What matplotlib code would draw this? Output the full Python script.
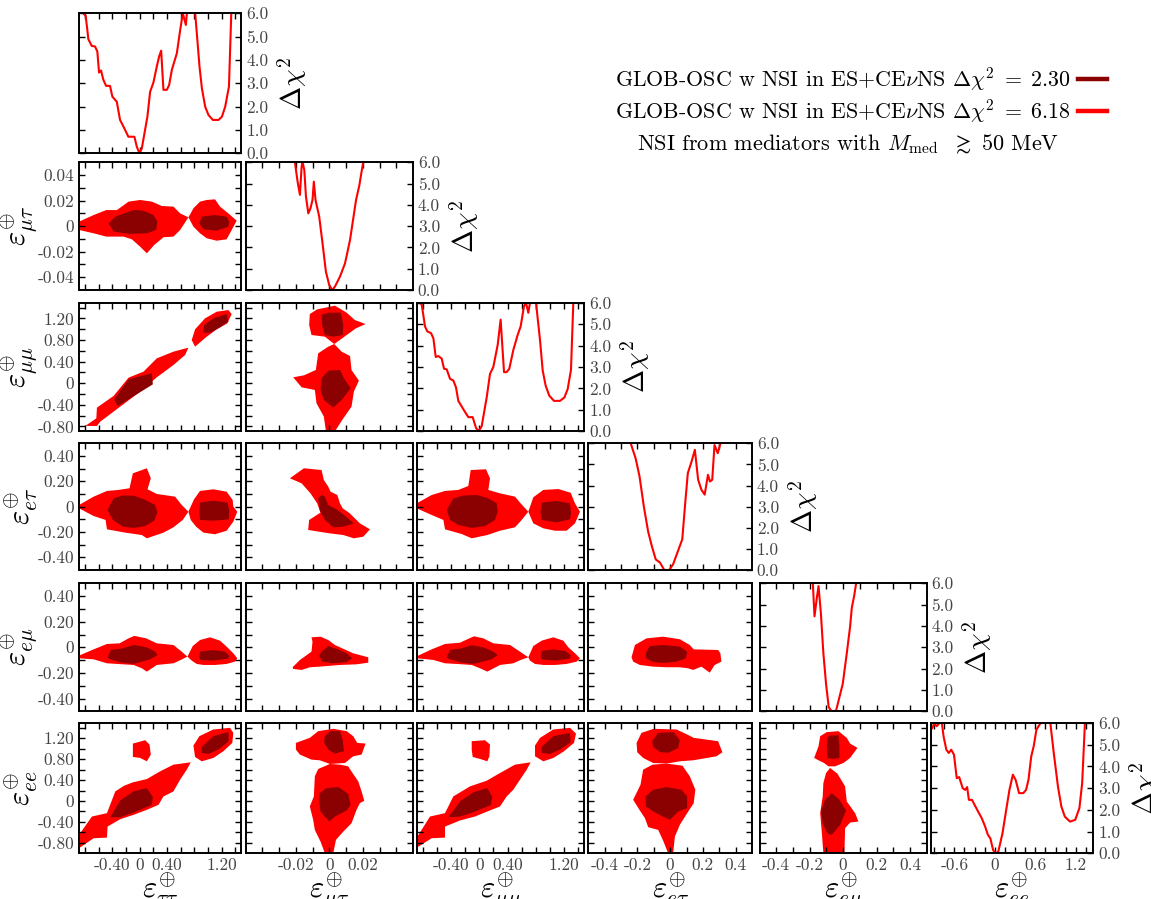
import matplotlib

matplotlib.use("Agg")
import matplotlib.pyplot as plt
import numpy as np
from matplotlib.lines import Line2D
from matplotlib.ticker import FixedFormatter, FixedLocator

plt.rcParams["font.family"] = ["cmr10", "DejaVu Serif"]
plt.rcParams["mathtext.fontset"] = "cm"
plt.rcParams["axes.unicode_minus"] = False
plt.rcParams["axes.formatter.use_mathtext"] = True

RED = "#ff0000"
DARK = "#8b0000"
TICK_COLOR = "#444444"

# ---------------------------------------------------------------- data
# one-dimensional profiles (delta chi^2 vs parameter); nan = curve leaves the frame
tt_x = [-0.827, -0.792, -0.768, -0.753, -0.703, -0.655, -0.621, -0.596, -0.567, -0.533, -0.493, -0.435,
        -0.401, -0.336, -0.288, -0.225, -0.166, -0.078, -0.042, -0.004, 0.031, 0.113, 0.153, 0.201,
        0.251, 0.285, 0.315, 0.348, 0.398, 0.432, 0.472, 0.545, 0.594, 0.633, 0.677, 0.692, 0.75,
        0.814, 0.877, 0.912, 0.96, 1.009, 1.073, 1.156, 1.206, 1.254, 1.309, 1.343]
tt_chi2 = [6.0, 5.89, 5.29, 4.89, 4.60, 4.58, 4.36, 3.46, 3.55, 3.15, 2.89, 2.89,
           2.43, 2.21, 1.43, 1.07, 0.71, 0.71, 0.28, 0.0, 0.21, 1.57, 2.64, 3.03,
           3.72, 4.15, 4.40, 2.72, 2.72, 2.93, 3.58, 4.29, 5.29, 6.0, 5.5, 6.0, np.nan,
           6.0, 3.72, 2.79, 2.0, 1.64, 1.43, 1.43, 1.57, 2.0, 2.86, 6.0]

mt_x = [-0.0205, -0.0189, -0.0175, -0.0165, -0.0159, -0.0149, -0.0139, -0.0125, -0.0112, -0.0100,
        -0.0092, -0.0082, -0.0060, -0.0040, -0.0020, 0.0, 0.0018, 0.0034, 0.0064, 0.0094, 0.0124,
        0.0160, 0.0180, 0.0193, 0.0203]
mt_chi2 = [6.0, 5.09, 4.47, 5.8, 6.0, 5.64, 4.39, 3.6, 3.84, 4.23,
           5.09, 4.23, 3.45, 2.19, 0.86, 0.23, 0.0, 0.16, 0.63, 1.25, 2.35,
           4.23, 4.93, 5.56, 6.0]

mm_x = [-0.852, -0.819, -0.772, -0.739, -0.687, -0.653, -0.620, -0.582, -0.535, -0.502, -0.464, -0.417,
        -0.370, -0.332, -0.299, -0.228, -0.157, -0.095, -0.048, -0.010, 0.033, 0.104, 0.151, 0.198,
        0.260, 0.302, 0.350, 0.387, 0.425, 0.482, 0.544, 0.586, 0.634, 0.662, 0.695, 0.719, 0.76,
        0.804, 0.861, 0.899, 0.941, 0.993, 1.06, 1.145, 1.207, 1.254, 1.301, 1.334]
mm_chi2 = [6.0, 5.92, 4.89, 4.66, 4.58, 4.34, 3.47, 3.51, 3.39, 2.92, 2.89, 2.45,
           2.37, 2.05, 1.42, 1.03, 0.66, 0.66, 0.16, 0.0, 0.24, 1.58, 2.68, 3.0,
           4.03, 5.21, 2.76, 2.76, 2.92, 3.79, 4.5, 4.89, 5.84, 6.0, 5.53, 6.0, np.nan,
           6.0, 4.26, 2.84, 2.13, 1.66, 1.42, 1.42, 1.58, 1.97, 2.87, 6.0]

et_x = [-0.241, -0.211, -0.187, -0.161, -0.135, -0.112, -0.088, -0.062, -0.036, -0.006, 0.018, 0.044,
        0.074, 0.092, 0.108, 0.131, 0.151, 0.171, 0.191, 0.211, 0.231, 0.243, 0.257, 0.271, 0.291, 0.307]
et_chi2 = [6.0, 5.29, 4.43, 3.02, 1.84, 1.13, 0.5, 0.35, 0.0, 0.0, 0.27, 0.82,
           1.45, 3.17, 4.59, 5.14, 5.69, 4.27, 3.8, 3.57, 4.51, 4.19, 4.27, 5.92, 5.53, 6.0]

em_x = [-0.181, -0.171, -0.157, -0.147, -0.133, -0.118, -0.102, -0.086, -0.068, -0.042, -0.022, -0.002,
        0.022, 0.042, 0.052, 0.066, 0.078]
em_chi2 = [6.0, 4.45, 5.32, 5.87, 4.61, 2.72, 1.29, 0.19, 0.0, 0.03, 0.66, 1.29,
           2.72, 3.98, 4.85, 5.4, 6.0]

ee_x = [-0.99, -0.964, -0.928, -0.897, -0.861, -0.82, -0.784, -0.759, -0.718, -0.682, -0.646, -0.605,
        -0.564, -0.528, -0.476, -0.44, -0.41, -0.384, -0.338, -0.286, -0.235, -0.194, -0.143, -0.102,
        -0.066, -0.025, 0.011, 0.052, 0.114, 0.165, 0.217, 0.268, 0.309, 0.36, 0.422, 0.463,
        0.499, 0.54, 0.576, 0.617, 0.648, 0.679, 0.75, 0.823, 0.874, 0.936, 0.987, 1.038, 1.115,
        1.192, 1.254, 1.295, 1.336]
ee_chi2 = [4.92, 5.62, 5.77, 5.97, 5.85, 6.0, 6.0, 5.38, 4.77, 4.62, 4.77, 4.54,
           3.46, 3.51, 3.0, 2.92, 3.05, 2.46, 2.46, 2.15, 1.85, 1.62, 1.23, 0.85,
           0.69, 0.15, 0.0, 0.08, 0.92, 1.92, 2.92, 3.62, 3.38, 2.77, 2.77, 2.92,
           3.38, 4.46, 4.92, 5.69, 5.85, 6.0, np.nan, 6.0, 4.62, 3.08, 2.15, 1.69, 1.46,
           1.54, 2.08, 3.23, 6.0]

# two-dimensional allowed regions: outlines of the 6.18 (red) and 2.30 (dark) areas
mt_tt_red = [
    [(-0.89, 0.0035), (-0.675, 0.0087), (-0.49, 0.0126), (-0.334, 0.0126), (-0.163, 0.0192), (0.007, 0.0205),
     (0.178, 0.0192), (0.324, 0.0158), (0.495, 0.0153), (0.593, 0.010), (0.715, 0.0069), (0.593, -0.003),
     (0.495, -0.0082), (0.349, -0.0087), (0.212, -0.0148), (0.105, -0.0213), (0.007, -0.0161),
     (-0.115, -0.0103), (-0.237, -0.0082), (-0.49, -0.0082), (-0.675, -0.0056), (-0.89, -0.003)],
    [(0.715, 0.0069), (0.788, 0.014), (0.885, 0.0192), (0.983, 0.0205), (1.105, 0.021), (1.178, 0.0153),
     (1.30, 0.010), (1.422, 0.0043), (1.349, -0.003), (1.275, -0.0103), (1.129, -0.0114), (0.983, -0.0095),
     (0.885, -0.0056), (0.788, -0.0004)],
]
mt_tt_dark = [
    [(-0.456, 0.0022), (-0.358, 0.0074), (-0.09, 0.0127), (0.056, 0.0121), (0.202, 0.0087), (0.261, 0.0035),
     (0.241, -0.003), (0.105, -0.0056), (-0.139, -0.0061), (-0.383, -0.0043)],
    [(0.875, 0.0022), (0.91, 0.0074), (1.105, 0.0087), (1.275, 0.0074), (1.314, 0.0035), (1.30, -0.0004),
     (1.129, -0.0035), (0.934, -0.0025)],
]

mm_tt_red = [
    [(-0.797, -0.791), (-0.636, -0.65), (-0.627, -0.452), (-0.383, -0.236), (-0.163, 0.103), (0.056, 0.214),
     (0.251, 0.46), (0.495, 0.584), (0.714, 0.658), (0.666, 0.522), (0.495, 0.337), (0.251, 0.109),
     (0.007, -0.156), (-0.188, -0.341), (-0.383, -0.526), (-0.578, -0.711), (-0.627, -0.791)],
    [(0.763, 0.799), (0.812, 0.997), (0.958, 1.20), (1.129, 1.323), (1.30, 1.354), (1.349, 1.28),
     (1.285, 1.108), (1.129, 0.997), (0.983, 0.861), (0.812, 0.676)],
]
mm_tt_dark = [
    [(-0.373, -0.298), (-0.163, 0.072), (0.178, 0.183), (0.193, -0.021), (-0.115, -0.261), (-0.324, -0.421)],
    [(0.934, 0.935), (0.944, 1.077), (1.08, 1.20), (1.275, 1.28), (1.30, 1.139), (1.178, 1.034), (1.032, 0.935)],
]

mm_mt_red = [
    [(-0.012, 1.077), (-0.0116, 1.28), (-0.0072, 1.367), (0.0034, 1.435), (0.0104, 1.305), (0.0153, 1.169),
     (0.0217, 1.095), (0.0159, 1.015), (0.0104, 0.892), (0.003, 0.725), (-0.0026, 0.861), (-0.0106, 0.892)],
    [(0.003, 0.725), (0.0074, 0.584), (0.0124, 0.503), (0.0133, 0.244), (0.0177, 0.047), (0.0147, -0.156),
     (0.0133, -0.434), (0.0084, -0.65), (0.0034, -0.89), (-0.002, -0.89), (-0.0032, -0.619),
     (-0.0076, -0.372), (-0.0086, -0.125), (-0.0165, -0.076), (-0.0215, 0.109), (-0.0151, 0.146),
     (-0.008, 0.245), (-0.0066, 0.553), (-0.0006, 0.676)],
]
mm_mt_dark = [
    [(-0.0046, 1.262), (-0.0006, 1.305), (0.0068, 1.305), (0.0084, 1.077), (0.008, 0.892), (0.0024, 0.861),
     (-0.0026, 0.892), (-0.0042, 1.077)],
    [(-0.0052, -0.125), (-0.0046, 0.09), (-0.0006, 0.232), (0.0064, 0.245), (0.0088, 0.09), (0.0128, -0.095),
     (0.0074, -0.311), (0.0024, -0.452), (-0.0032, -0.311)],
]

et_tt_red = [
    [(-0.89, 0.013), (-0.675, 0.079), (-0.48, 0.124), (-0.31, 0.132), (-0.149, 0.145), (-0.10, 0.263),
     (0.105, 0.303), (0.163, 0.224), (0.115, 0.137), (0.251, 0.10), (0.519, 0.079), (0.617, 0.013),
     (0.714, -0.04), (0.632, -0.105), (0.495, -0.163), (0.349, -0.205), (0.105, -0.25), (0.032, -0.224),
     (-0.212, -0.205), (-0.48, -0.179), (-0.50, -0.105), (-0.675, -0.074), (-0.89, -0.013)],
    [(0.714, -0.04), (0.797, 0.058), (0.885, 0.124), (1.08, 0.137), (1.275, 0.118), (1.363, 0.053),
     (1.373, 0.0), (1.431, -0.04), (1.373, -0.118), (1.275, -0.19), (1.105, -0.218), (0.934, -0.205),
     (0.827, -0.158), (0.749, -0.105)],
]
et_tt_dark = [
    [(-0.471, -0.026), (-0.383, 0.066), (-0.261, 0.087), (-0.09, 0.087), (0.066, 0.058), (0.227, 0.013),
     (0.261, -0.047), (0.212, -0.111), (0.081, -0.153), (-0.09, -0.168), (-0.246, -0.158), (-0.393, -0.105)],
    [(0.875, -0.04), (0.885, 0.032), (1.08, 0.047), (1.285, 0.032), (1.314, -0.032), (1.305, -0.10),
     (1.08, -0.111), (0.885, -0.105)],
]

et_mt_red = [
    [(-0.0235, 0.224), (-0.0151, 0.303), (-0.0046, 0.289), (-0.0032, 0.21), (-0.0006, 0.158), (0.0008, 0.118),
     (0.0048, 0.092), (0.0064, 0.026), (0.008, -0.013), (0.0123, -0.053), (0.0183, -0.132), (0.0243, -0.179),
     (0.0203, -0.237), (0.0147, -0.25), (0.0084, -0.224), (0.0004, -0.211), (-0.0126, -0.184),
     (-0.012, -0.105), (-0.0052, -0.047), (-0.0072, 0.026), (-0.0112, 0.105), (-0.0165, 0.184)],
]
et_mt_dark = [
    [(-0.0066, 0.066), (-0.0046, 0.092), (-0.0026, 0.079), (-0.0006, 0.013), (0.0044, -0.021), (0.0088, -0.066),
     (0.0147, -0.132), (0.0084, -0.158), (0.0024, -0.163), (-0.0026, -0.105), (-0.0056, -0.032)],
]

et_mm_red = [
    [(-0.89, 0.026), (-0.677, 0.092), (-0.488, 0.124), (-0.298, 0.132), (-0.157, 0.163), (-0.123, 0.289),
     (0.094, 0.295), (0.151, 0.224), (0.127, 0.132), (0.293, 0.105), (0.506, 0.079), (0.586, 0.026),
     (0.695, -0.04), (0.601, -0.105), (0.506, -0.163), (0.293, -0.19), (0.113, -0.224), (-0.109, -0.25),
     (-0.251, -0.216), (-0.488, -0.179), (-0.511, -0.105), (-0.677, -0.066), (-0.89, -0.013)],
    [(0.695, -0.04), (0.766, 0.074), (0.908, 0.132), (1.121, 0.139), (1.296, 0.11), (1.358, 0.026),
     (1.429, -0.04), (1.358, -0.132), (1.239, -0.19), (1.074, -0.19), (0.908, -0.171), (0.766, -0.132)],
]
et_mm_dark = [
    [(-0.464, -0.026), (-0.369, 0.066), (-0.228, 0.087), (-0.038, 0.092), (0.127, 0.066), (0.246, 0.026),
     (0.26, -0.04), (0.222, -0.105), (0.08, -0.153), (-0.109, -0.168), (-0.298, -0.145), (-0.417, -0.105)],
    [(0.87, -0.04), (0.885, 0.032), (1.097, 0.045), (1.287, 0.026), (1.301, -0.053), (1.287, -0.10),
     (1.097, -0.124), (0.885, -0.105)],
]

em_tt_red = [
    [(-0.89, -0.065), (-0.675, -0.016), (-0.48, 0.026), (-0.295, 0.031), (-0.163, 0.07), (-0.08, 0.089),
     (0.095, 0.07), (0.251, 0.031), (0.495, 0.018), (0.617, -0.034), (0.70, -0.073), (0.602, -0.099),
     (0.495, -0.125), (0.251, -0.138), (0.105, -0.19), (0.032, -0.164), (-0.09, -0.138), (-0.334, -0.13),
     (-0.48, -0.125), (-0.675, -0.094), (-0.89, -0.086)],
    [(0.70, -0.073), (0.778, 0.01), (0.885, 0.057), (1.032, 0.078), (1.178, 0.052), (1.285, 0.0),
     (1.373, -0.047), (1.431, -0.086), (1.397, -0.112), (1.275, -0.13), (1.105, -0.138), (0.934, -0.138),
     (0.836, -0.13), (0.763, -0.104)],
]
em_tt_dark = [
    [(-0.471, -0.078), (-0.422, -0.021), (-0.246, -0.008), (-0.09, 0.018), (0.105, 0.0), (0.227, -0.034),
     (0.261, -0.06), (0.154, -0.094), (-0.09, -0.13), (-0.261, -0.12), (-0.432, -0.094)],
    [(0.875, -0.073), (0.885, -0.034), (1.08, -0.021), (1.251, -0.034), (1.314, -0.068), (1.30, -0.088),
     (1.08, -0.104), (0.885, -0.099)],
]

em_mt_red = [
    [(-0.0219, -0.156), (-0.0175, -0.099), (-0.0106, -0.034), (-0.010, 0.044), (-0.0106, 0.078),
     (-0.0052, 0.083), (-0.0006, 0.057), (0.0034, 0.018), (0.0143, -0.047), (0.0233, -0.078),
     (0.0233, -0.12), (0.0163, -0.133), (0.0064, -0.138), (-0.0056, -0.151), (-0.0116, -0.156),
     (-0.0165, -0.177), (-0.0215, -0.169)],
]
em_mt_dark = [
    [(-0.006, -0.068), (-0.0046, -0.034), (-0.0006, 0.01), (0.0044, -0.013), (0.0104, -0.047),
     (0.0137, -0.086), (0.0104, -0.115), (0.0024, -0.125), (-0.004, -0.112)],
]

em_mm_red = [
    [(-0.88, -0.068), (-0.677, -0.016), (-0.488, 0.026), (-0.275, 0.036), (-0.142, 0.07), (-0.076, 0.086),
     (0.056, 0.07), (0.198, 0.031), (0.435, 0.018), (0.577, -0.034), (0.695, -0.078), (0.586, -0.099),
     (0.482, -0.125), (0.293, -0.138), (0.113, -0.19), (0.009, -0.164), (-0.109, -0.138), (-0.322, -0.13),
     (-0.488, -0.125), (-0.653, -0.099), (-0.88, -0.086)],
    [(0.695, -0.078), (0.766, 0.01), (0.885, 0.052), (1.05, 0.078), (1.192, 0.052), (1.263, 0.0),
     (1.358, -0.047), (1.429, -0.086), (1.381, -0.112), (1.239, -0.13), (1.074, -0.138), (0.908, -0.138),
     (0.79, -0.13), (0.719, -0.104)],
]
em_mm_dark = [
    [(-0.464, -0.078), (-0.417, -0.021), (-0.251, -0.008), (-0.109, 0.016), (0.056, 0.0), (0.198, -0.034),
     (0.26, -0.06), (0.175, -0.094), (-0.086, -0.13), (-0.251, -0.12), (-0.417, -0.094)],
    [(0.87, -0.068), (0.885, -0.029), (1.05, -0.016), (1.216, -0.029), (1.296, -0.06), (1.287, -0.088),
     (1.074, -0.104), (0.885, -0.094)],
]

em_et_red = [
    [(-0.236, -0.078), (-0.215, 0.018), (-0.144, 0.07), (-0.043, 0.083), (0.059, 0.063), (0.12, 0.018),
     (0.144, -0.016), (0.293, -0.021), (0.307, -0.047), (0.313, -0.112), (0.272, -0.138), (0.242, -0.198),
     (0.191, -0.151), (0.14, -0.177), (0.11, -0.164), (0.059, -0.156), (-0.022, -0.156), (-0.104, -0.151),
     (-0.185, -0.138), (-0.226, -0.112)],
]
em_et_dark = [
    [(-0.148, -0.042), (-0.124, 0.01), (-0.043, 0.018), (0.059, 0.005), (0.104, -0.034), (0.096, -0.086),
     (0.039, -0.112), (-0.043, -0.122), (-0.104, -0.115), (-0.148, -0.086)],
]

ee_tt_red = [
    [(-0.89, -0.648), (-0.70, -0.297), (-0.48, -0.233), (-0.358, 0.183), (-0.227, 0.292), (-0.10, 0.356),
     (0.105, 0.419), (0.30, 0.566), (0.495, 0.694), (0.749, 0.739), (0.69, 0.598), (0.593, 0.407),
     (0.495, 0.183), (0.349, 0.087), (0.276, -0.073), (0.105, -0.169), (-0.09, -0.265), (-0.285, -0.348),
     (-0.471, -0.489), (-0.48, -0.70), (-0.675, -0.712), (-0.87, -0.885), (-0.89, -0.89)],
    [(-0.10, 1.097), (0.081, 1.161), (0.144, 1.078), (0.163, 0.886), (0.105, 0.758), (0.007, 0.822),
     (-0.10, 0.841)],
    [(0.788, 1.059), (0.875, 1.238), (1.08, 1.366), (1.324, 1.398), (1.373, 1.302), (1.358, 1.11),
     (1.227, 0.95), (1.08, 0.822), (0.91, 0.758), (0.812, 0.841)],
]
ee_tt_dark = [
    [(0.91, 1.033), (1.08, 1.238), (1.30, 1.315), (1.305, 1.142), (1.154, 0.982), (1.007, 0.899), (0.91, 0.918)],
    [(-0.432, -0.31), (-0.285, 0.01), (-0.09, 0.183), (0.105, 0.247), (0.193, 0.074), (0.178, -0.073),
     (-0.09, -0.22), (-0.285, -0.31)],
]

ee_mt_red = [
    [(-0.0199, 1.11), (-0.0116, 1.206), (-0.0066, 1.334), (0.0024, 1.379), (0.0104, 1.334), (0.0143, 1.238),
     (0.0167, 1.11), (0.0217, 1.097), (0.0193, 0.886), (0.0143, 0.854), (0.0094, 0.726), (0.0004, 0.707),
     (-0.0056, 0.777), (-0.0106, 0.79), (-0.0175, 0.886), (-0.0199, 0.982)],
    [(0.0004, 0.707), (0.0064, 0.694), (0.0113, 0.662), (0.0139, 0.534), (0.0173, 0.375), (0.0193, 0.183),
     (0.0209, 0.004), (0.0183, -0.041), (0.0163, -0.169), (0.0133, -0.425), (0.0084, -0.585),
     (0.004, -0.744), (0.0024, -1.0), (-0.0026, -1.0), (-0.0052, -0.776), (-0.0086, -0.553),
     (-0.0096, -0.361), (-0.0116, -0.105), (-0.0092, 0.087), (-0.0086, 0.471), (-0.0066, 0.611)],
]
ee_mt_dark = [
    [(-0.0026, 1.238), (0.0004, 1.334), (0.0064, 1.334), (0.008, 1.174), (0.0088, 0.95), (0.0034, 0.905),
     (-0.0006, 0.982), (-0.0032, 1.123)],
    [(-0.0056, 0.151), (-0.0016, 0.247), (0.0054, 0.266), (0.0113, 0.138), (0.0127, -0.073), (0.0104, -0.182),
     (0.0034, -0.297), (0.0, -0.393), (-0.0052, -0.201), (-0.006, -0.009)],
]

ee_mm_red = [
    [(-0.88, -0.68), (-0.701, -0.297), (-0.488, -0.233), (-0.37, 0.087), (-0.251, 0.183), (-0.133, 0.279),
     (0.104, 0.387), (0.293, 0.534), (0.506, 0.694), (0.728, 0.739), (0.672, 0.598), (0.577, 0.407),
     (0.482, 0.215), (0.388, 0.087), (0.293, -0.105), (0.113, -0.201), (-0.062, -0.297), (-0.275, -0.373),
     (-0.488, -0.489), (-0.488, -0.70), (-0.677, -0.712), (-0.88, -0.885)],
    [(-0.109, 1.142), (0.08, 1.161), (0.151, 1.078), (0.142, 0.854), (0.113, 0.758), (0.009, 0.803),
     (-0.095, 0.841), (-0.109, 0.982)],
    [(0.79, 1.059), (0.861, 1.206), (1.05, 1.366), (1.287, 1.398), (1.372, 1.289), (1.344, 1.11),
     (1.202, 0.95), (1.05, 0.822), (0.908, 0.758), (0.79, 0.854)],
]
ee_mm_dark = [
    [(0.885, 1.033), (1.05, 1.238), (1.287, 1.302), (1.296, 1.123), (1.145, 0.982), (1.003, 0.899), (0.885, 0.918)],
    [(-0.44, -0.31), (-0.265, 0.004), (-0.086, 0.164), (0.113, 0.247), (0.184, 0.074), (0.161, -0.079),
     (-0.086, -0.214), (-0.275, -0.297)],
]

ee_et_red = [
    [(-0.205, 1.11), (-0.175, 1.302), (-0.10, 1.379), (0.039, 1.366), (0.104, 1.27), (0.144, 1.206),
     (0.293, 1.142), (0.319, 0.931), (0.283, 0.854), (0.201, 0.809), (0.14, 0.777), (0.059, 0.758),
     (-0.022, 0.714), (-0.104, 0.726), (-0.165, 0.822), (-0.201, 0.931)],
    [(-0.022, 0.714), (0.075, 0.675), (0.12, 0.471), (0.154, 0.215), (0.144, -0.041), (0.104, -0.233),
     (0.059, -0.457), (0.029, -0.681), (0.018, -1.0), (-0.012, -1.0), (-0.043, -0.757), (-0.073, -0.553),
     (-0.134, -0.501), (-0.154, -0.329), (-0.185, -0.182), (-0.226, 0.023), (-0.181, 0.311),
     (-0.165, 0.598), (-0.108, 0.694)],
]
ee_et_dark = [
    [(-0.11, 1.142), (-0.073, 1.302), (0.022, 1.315), (0.059, 1.161), (0.049, 1.014), (-0.012, 0.918),
     (-0.063, 0.937), (-0.104, 1.033)],
    [(-0.15, 0.087), (-0.104, 0.215), (-0.022, 0.266), (0.069, 0.215), (0.104, 0.087), (0.104, -0.137),
     (0.049, -0.201), (-0.002, -0.361), (-0.053, -0.284), (-0.104, -0.201), (-0.148, -0.105)],
]

ee_em_red = [
    [(-0.137, 1.238), (-0.098, 1.315), (-0.028, 1.334), (0.022, 1.206), (0.042, 1.097), (0.086, 1.014),
     (0.042, 0.822), (0.002, 0.726), (-0.048, 0.662), (-0.088, 0.662), (-0.114, 0.726), (-0.147, 0.777),
     (-0.173, 0.822), (-0.147, 1.046)],
    [(-0.078, 0.631), (-0.034, 0.522), (0.012, 0.279), (0.022, -0.009), (0.072, -0.233), (0.092, -0.393),
     (0.042, -0.413), (0.012, -0.521), (0.008, -1.0), (-0.118, -1.0), (-0.127, -0.616), (-0.137, -0.233),
     (-0.122, 0.087), (-0.118, 0.343), (-0.102, 0.534)],
]
ee_em_dark = [
    [(-0.094, 1.206), (-0.078, 1.251), (-0.028, 1.251), (-0.022, 1.046), (-0.022, 0.822), (-0.058, 0.803),
     (-0.094, 0.822), (-0.098, 1.046)],
    [(-0.131, -0.182), (-0.108, 0.023), (-0.068, 0.151), (-0.022, 0.023), (0.018, -0.182), (-0.018, -0.457),
     (-0.068, -0.649), (-0.094, -0.617), (-0.122, -0.425)],
]

# parameter axes, in plotting order
axis_labels = [r"$\varepsilon^{\oplus}_{\tau\tau}$", r"$\varepsilon^{\oplus}_{\mu\tau}$",
               r"$\varepsilon^{\oplus}_{\mu\mu}$", r"$\varepsilon^{\oplus}_{e\tau}$",
               r"$\varepsilon^{\oplus}_{e\mu}$", r"$\varepsilon^{\oplus}_{ee}$"]
axis_limits = [(-0.89, 1.49), (-0.05, 0.05), (-0.89, 1.49), (-0.5, 0.5), (-0.5, 0.5), (-1.0, 1.49)]
ee_profile_limits = (-0.95, 1.46)

big_ticks = [-0.8, -0.6, -0.4, -0.2, 0.0, 0.2, 0.4, 0.6, 0.8, 1.0, 1.2, 1.4]
mt_ticks = [-0.04, -0.03, -0.02, -0.01, 0.0, 0.01, 0.02, 0.03, 0.04]
small_ticks = [-0.4, -0.3, -0.2, -0.1, 0.0, 0.1, 0.2, 0.3, 0.4]
ee_profile_ticks = [-0.9, -0.75, -0.6, -0.45, -0.3, -0.15, 0.0, 0.15, 0.3, 0.45, 0.6, 0.75, 0.9,
                    1.05, 1.2, 1.35]
chi2_ticks = [0, 1, 2, 3, 4, 5, 6]
chi2_labels = ["0.0", "1.0", "2.0", "3.0", "4.0", "5.0", "6.0"]

big_x_labels = {-0.4: "-0.40", 0.0: "0", 0.4: "0.40", 1.2: "1.20"}
big_y_labels = {-0.8: "-0.80", -0.4: "-0.40", 0.0: "0", 0.4: "0.40", 0.8: "0.80", 1.2: "1.20"}
mt_x_labels = {-0.02: "-0.02", 0.0: "0", 0.02: "0.02"}
mt_y_labels = {-0.04: "-0.04", -0.02: "-0.02", 0.0: "0", 0.02: "0.02", 0.04: "0.04"}
small_x_labels = {-0.4: "-0.4", -0.2: "-0.2", 0.0: "0", 0.2: "0.2", 0.4: "0.4"}
small_y_labels = {-0.4: "-0.40", -0.2: "-0.20", 0.0: "0", 0.2: "0.20", 0.4: "0.40"}
ee_profile_labels = {-0.6: "-0.6", 0.0: "0", 0.6: "0.6", 1.2: "1.2"}

axis_ticks = [big_ticks, mt_ticks, big_ticks, small_ticks, small_ticks, big_ticks]
x_tick_labels = [big_x_labels, mt_x_labels, big_x_labels, small_x_labels, small_x_labels, ee_profile_labels]
y_tick_labels = [None, mt_y_labels, big_y_labels, small_y_labels, small_y_labels, big_y_labels]

profiles = [(tt_x, tt_chi2), (mt_x, mt_chi2), (mm_x, mm_chi2), (et_x, et_chi2), (em_x, em_chi2),
            (ee_x, ee_chi2)]
regions = {
    (1, 0): (mt_tt_red, mt_tt_dark),
    (2, 0): (mm_tt_red, mm_tt_dark), (2, 1): (mm_mt_red, mm_mt_dark),
    (3, 0): (et_tt_red, et_tt_dark), (3, 1): (et_mt_red, et_mt_dark), (3, 2): (et_mm_red, et_mm_dark),
    (4, 0): (em_tt_red, em_tt_dark), (4, 1): (em_mt_red, em_mt_dark), (4, 2): (em_mm_red, em_mm_dark),
    (4, 3): (em_et_red, em_et_dark),
    (5, 0): (ee_tt_red, ee_tt_dark), (5, 1): (ee_mt_red, ee_mt_dark), (5, 2): (ee_mm_red, ee_mm_dark),
    (5, 3): (ee_et_red, ee_et_dark), (5, 4): (ee_em_red, ee_em_dark),
}

# ---------------------------------------------------------------- layout (pixels)
W, H = 1151, 899
col_left = [79, 245.5, 416.7, 588.3, 759.5, 930.7]
col_right = [241.3, 413, 584.3, 752, 926.7, 1093.3]
row_top = [13.3, 162.3, 302.7, 443.3, 583.3, 723]
row_bottom = [153.3, 290, 431.3, 570, 711.3, 853.3]
YLABEL_RIGHT_PX = 41


def panel(fig, row, col):
    rect = [col_left[col] / W, 1 - row_bottom[row] / H,
            (col_right[col] - col_left[col]) / W, (row_bottom[row] - row_top[row]) / H]
    return fig.add_axes(rect)


def label_list(ticks, labels):
    if labels is None:
        return [""] * len(ticks)
    return [labels.get(round(t, 3), "") for t in ticks]


def style(ax):
    for spine in ax.spines.values():
        spine.set_linewidth(1.4)
    ax.tick_params(which="both", direction="in", top=True, right=True, length=4.5, width=1.0,
                   labelsize=12.5, labelcolor=TICK_COLOR, pad=3.5)


def main() -> None:
    fig = plt.figure(figsize=(W / 100, H / 100), dpi=100)

    for row in range(6):
        for col in range(row + 1):
            ax = panel(fig, row, col)
            style(ax)
            xticks = axis_ticks[col]
            xlim = axis_limits[col]
            if row == col == 5:
                xticks = ee_profile_ticks
                xlim = ee_profile_limits

            if row == col:
                x, chi2 = profiles[col]
                ax.plot(x, chi2, color=RED, lw=1.5)
                ax.set_ylim(0, 6)
                ax.yaxis.set_major_locator(FixedLocator(chi2_ticks))
                ax.yaxis.set_major_formatter(FixedFormatter(chi2_labels))
                ax.tick_params(axis="y", labelleft=False, labelright=True)
                ax.yaxis.set_label_position("right")
                ax.set_ylabel(r"$\Delta\chi^2$", fontsize=20, rotation=90, labelpad=5)
            else:
                red, dark = regions[(row, col)]
                for poly in red:
                    px, py = zip(*poly)
                    ax.fill(px, py, color=RED, lw=0)
                for poly in dark:
                    px, py = zip(*poly)
                    ax.fill(px, py, color=DARK, lw=0)
                ax.set_ylim(*axis_limits[row])
                yt = axis_ticks[row]
                ax.yaxis.set_major_locator(FixedLocator(yt))
                if col == 0:
                    ax.yaxis.set_major_formatter(FixedFormatter(label_list(yt, y_tick_labels[row])))
                    ax.set_ylabel(axis_labels[row], fontsize=22)
                    width_px = col_right[0] - col_left[0]
                    ax.yaxis.set_label_coords((YLABEL_RIGHT_PX - col_left[0]) / width_px, 0.5)
                else:
                    ax.tick_params(axis="y", labelleft=False)

            ax.set_xlim(*xlim)
            ax.xaxis.set_major_locator(FixedLocator(xticks))
            if row == 5:
                ax.xaxis.set_major_formatter(FixedFormatter(label_list(xticks, x_tick_labels[col])))
                ax.set_xlabel(axis_labels[col], fontsize=22, labelpad=-1)
            else:
                ax.tick_params(axis="x", labelbottom=False)

    handles = [Line2D([], [], color=DARK, lw=3.2), Line2D([], [], color=RED, lw=3.2)]
    names = [r"GLOB-OSC w NSI in ES+CE$\nu$NS $\Delta\chi^2\;=\;2.30$",
             r"GLOB-OSC w NSI in ES+CE$\nu$NS $\Delta\chi^2\;=\;6.18$"]
    fig.legend(handles, names, loc="upper right", bbox_to_anchor=(1107 / W, 1 - 65 / H),
               frameon=False, markerfirst=False, fontsize=15.8, handlelength=1.3,
               handletextpad=0.35, labelspacing=0.2, borderpad=0, borderaxespad=0)
    fig.text(848 / W, 1 - 150 / H, r"NSI from mediators with $M_{\rm med}\ \ \gtrsim\ 50$ MeV",
             ha="center", va="baseline", fontsize=16)

    fig.savefig("out.png", dpi=100)
    plt.close(fig)


if __name__ == "__main__":
    main()
